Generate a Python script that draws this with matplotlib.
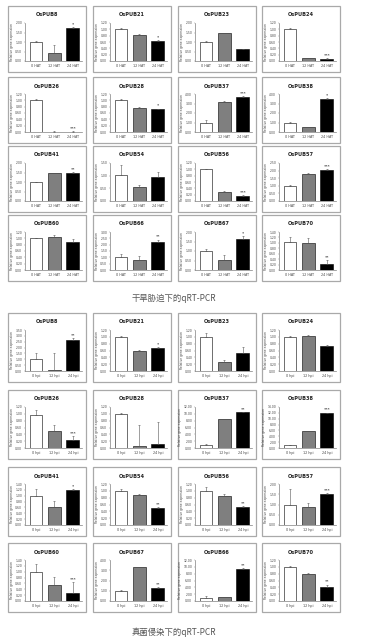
import matplotlib
matplotlib.use("Agg")
import matplotlib.pyplot as plt
from matplotlib.patches import Rectangle

plt.rcParams['font.family'] = ['DejaVu Sans', 'Noto Sans CJK SC']

# ---------------- data ----------------
drought_genes = ["OsPUB8", "OsPUB21", "OsPUB23", "OsPUB24",
                 "OsPUB26", "OsPUB28", "OsPUB37", "OsPUB38",
                 "OsPUB41", "OsPUB54", "OsPUB56", "OsPUB57",
                 "OsPUB60", "OsPUB66", "OsPUB67", "OsPUB70"]
drought_times = ["0 HAT", "12 HAT", "24 HAT"]
drought_means = [[1.00, 0.40, 1.75], [1.00, 0.83, 0.63], [1.00, 1.45, 0.62], [1.00, 0.10, 0.07],
                 [1.00, 0.01, 0.01], [1.00, 0.77, 0.72], [1.00, 3.20, 3.72], [1.00, 0.50, 3.50],
                 [1.00, 1.47, 1.48], [1.02, 0.55, 0.96], [1.00, 0.29, 0.17], [1.00, 1.75, 2.05],
                 [1.00, 1.04, 0.90], [1.02, 0.77, 2.25], [1.00, 0.52, 1.63], [1.02, 0.98, 0.22]]
drought_errs = [[0.05, 0.45, 0.03], [0.03, 0.03, 0.03], [0.03, 0.03, 0.01], [0.03, 0.01, 0.01],
                [0.03, 0.01, 0.01], [0.03, 0.01, 0.02], [0.30, 0.03, 0.05], [0.02, 0.03, 0.05],
                [0.02, 0.02, 0.05], [0.42, 0.07, 0.20], [0.02, 0.03, 0.02], [0.05, 0.08, 0.04],
                [0.02, 0.05, 0.08], [0.28, 0.30, 0.15], [0.08, 0.25, 0.15], [0.20, 0.20, 0.15]]
drought_stars = ["*", "*", "", "***", "***", "*", "***", "*",
                 "**", "", "***", "***", "", "**", "*", "**"]
drought_ymax = [2.0, 1.2, 2.0, 1.2, 1.2, 1.2, 4.0, 4.0,
                2.0, 1.5, 1.2, 2.5, 1.2, 3.0, 2.0, 1.4]
drought_ystep = [0.5, 0.2, 0.5, 0.2, 0.2, 0.2, 1.0, 1.0,
                 0.5, 0.5, 0.2, 0.5, 0.2, 0.5, 0.5, 0.2]

fungal_genes = ["OsPUB8", "OsPUB21", "OsPUB23", "OsPUB24",
                "OsPUB26", "OsPUB28", "OsPUB37", "OsPUB38",
                "OsPUB41", "OsPUB54", "OsPUB56", "OsPUB57",
                "OsPUB60", "OsPUB67", "OsPUB66", "OsPUB70"]
fungal_times = ["0 hpi", "12 hpi", "24 hpi"]
fungal_means = [[1.00, 0.12, 2.65], [1.00, 0.60, 0.66], [1.00, 0.26, 0.54], [1.00, 1.03, 0.72],
                [0.98, 0.50, 0.24], [1.00, 0.06, 0.13], [1.00, 8.50, 10.40], [1.00, 5.70, 11.90],
                [1.00, 0.63, 1.20], [1.00, 0.89, 0.50], [1.00, 0.86, 0.54], [1.00, 0.86, 1.50],
                [1.00, 0.56, 0.29], [1.00, 3.30, 1.27], [1.00, 1.10, 9.50], [1.00, 0.79, 0.41]]
fungal_errs = [[0.50, 1.45, 0.15], [0.03, 0.02, 0.04], [0.10, 0.07, 0.15], [0.03, 0.03, 0.05],
               [0.13, 0.16, 0.12], [0.03, 0.60, 0.63], [0.10, 0.10, 0.15], [0.10, 0.15, 0.20],
               [0.22, 0.20, 0.03], [0.04, 0.03, 0.02], [0.10, 0.05, 0.02], [0.75, 0.22, 0.05],
               [0.28, 0.27, 0.35], [0.10, 0.03, 0.05], [0.50, 0.10, 0.20], [0.02, 0.03, 0.07]]
fungal_stars = ["**", "*", "", "", "***", "", "**", "***",
                "*", "**", "**", "***", "***", "**", "**", "**"]
fungal_ymax = [3.5, 1.2, 1.2, 1.2, 1.2, 1.2, 12.0, 14.0,
               1.4, 1.2, 1.2, 2.0, 1.4, 4.0, 12.0, 1.2]
fungal_ystep = [0.5, 0.2, 0.2, 0.2, 0.2, 0.2, 2.0, 2.0,
                0.2, 0.2, 0.2, 0.5, 0.2, 1.0, 2.0, 0.2]

captions = ["干旱胁迫下的qRT-PCR", "真菌侵染下的qRT-PCR"]

bar_colors = ["white", "#7f7f7f", "black"]

# ---------------- layout ----------------
W, H = 368, 639
fig = plt.figure(figsize=(W / 100, H / 100), dpi=100)
fig.patch.set_facecolor("white")

col_x = [8, 93, 178, 262]
PW = 78
drought_rows = [6, 77, 146, 215]
fungal_rows = [313, 390, 467, 543]
PH_d = 66
PH_f = 69


def fx(px):
    return px / W


def fy(py):
    return 1 - py / H


def draw_panel(x0, y0, ph, gene, times, means, errs, star, ymax, ystep):
    # frame
    fig.patches.append(Rectangle((fx(x0), fy(y0 + ph)), PW / W, ph / H,
                                 transform=fig.transFigure, facecolor="white",
                                 edgecolor="#a9a9a9", linewidth=0.9, zorder=-5))
    ax_left = x0 + 17
    ax_w = 57
    ax_top = y0 + 17
    ax_bottom = y0 + ph - 11
    ax = fig.add_axes([fx(ax_left), fy(ax_bottom), ax_w / W, (ax_bottom - ax_top) / H])
    ax.set_zorder(2)
    ax.set_facecolor("none")
    xs = [0, 1, 2]
    ax.bar(xs, means, width=0.7, color=bar_colors, edgecolor="black", linewidth=0.4, zorder=2)
    ax.errorbar(xs, means, yerr=[[0, 0, 0], errs], fmt="none", ecolor="#555555",
                elinewidth=0.4, capsize=0.8, capthick=0.4, zorder=3)
    if star:
        ax.text(2, means[2] + errs[2] + ymax * 0.02, star, ha="center", va="bottom",
                fontsize=3.2, color="black")
    ax.set_xlim(-0.6, 2.5)
    ax.set_ylim(0, ymax)
    n = int(round(ymax / ystep))
    ticks = [i * ystep for i in range(n + 1)]
    ax.set_yticks(ticks)
    ax.set_yticklabels(["%.2f" % t for t in ticks], fontsize=2.2, color="#444444")
    ax.set_xticks(xs)
    ax.set_xticklabels(times, fontsize=2.4, color="#444444")
    for s in ["top", "right"]:
        ax.spines[s].set_visible(False)
    for s in ["left", "bottom"]:
        ax.spines[s].set_color("#808080")
        ax.spines[s].set_linewidth(0.5)
    ax.tick_params(axis="both", length=1, width=0.3, pad=1, colors="#808080",
                   labelcolor="#444444")
    ax.tick_params(axis="x", length=0, pad=2)
    ax.set_ylabel("Relative gene expression", fontsize=2.2, color="#444444", labelpad=1)
    fig.text(fx(x0 + PW / 2), fy(y0 + 9), gene, ha="center", va="center",
             fontsize=3.6, fontweight="bold", color="#222222", zorder=3)


for i in range(16):
    r, c = divmod(i, 4)
    draw_panel(col_x[c], drought_rows[r], PH_d, drought_genes[i], drought_times,
               drought_means[i], drought_errs[i], drought_stars[i],
               drought_ymax[i], drought_ystep[i])
    draw_panel(col_x[c], fungal_rows[r], PH_f, fungal_genes[i], fungal_times,
               fungal_means[i], fungal_errs[i], fungal_stars[i],
               fungal_ymax[i], fungal_ystep[i])

cap_family = ["Noto Sans CJK SC", "DejaVu Sans"]
fig.text(fx(174), fy(298), captions[0], ha="center", va="center", fontsize=6,
         color="#555555", family=cap_family)
fig.text(fx(174), fy(632), captions[1], ha="center", va="center", fontsize=6,
         color="#555555", family=cap_family)

fig.savefig("out.png", dpi=100, facecolor="white")
